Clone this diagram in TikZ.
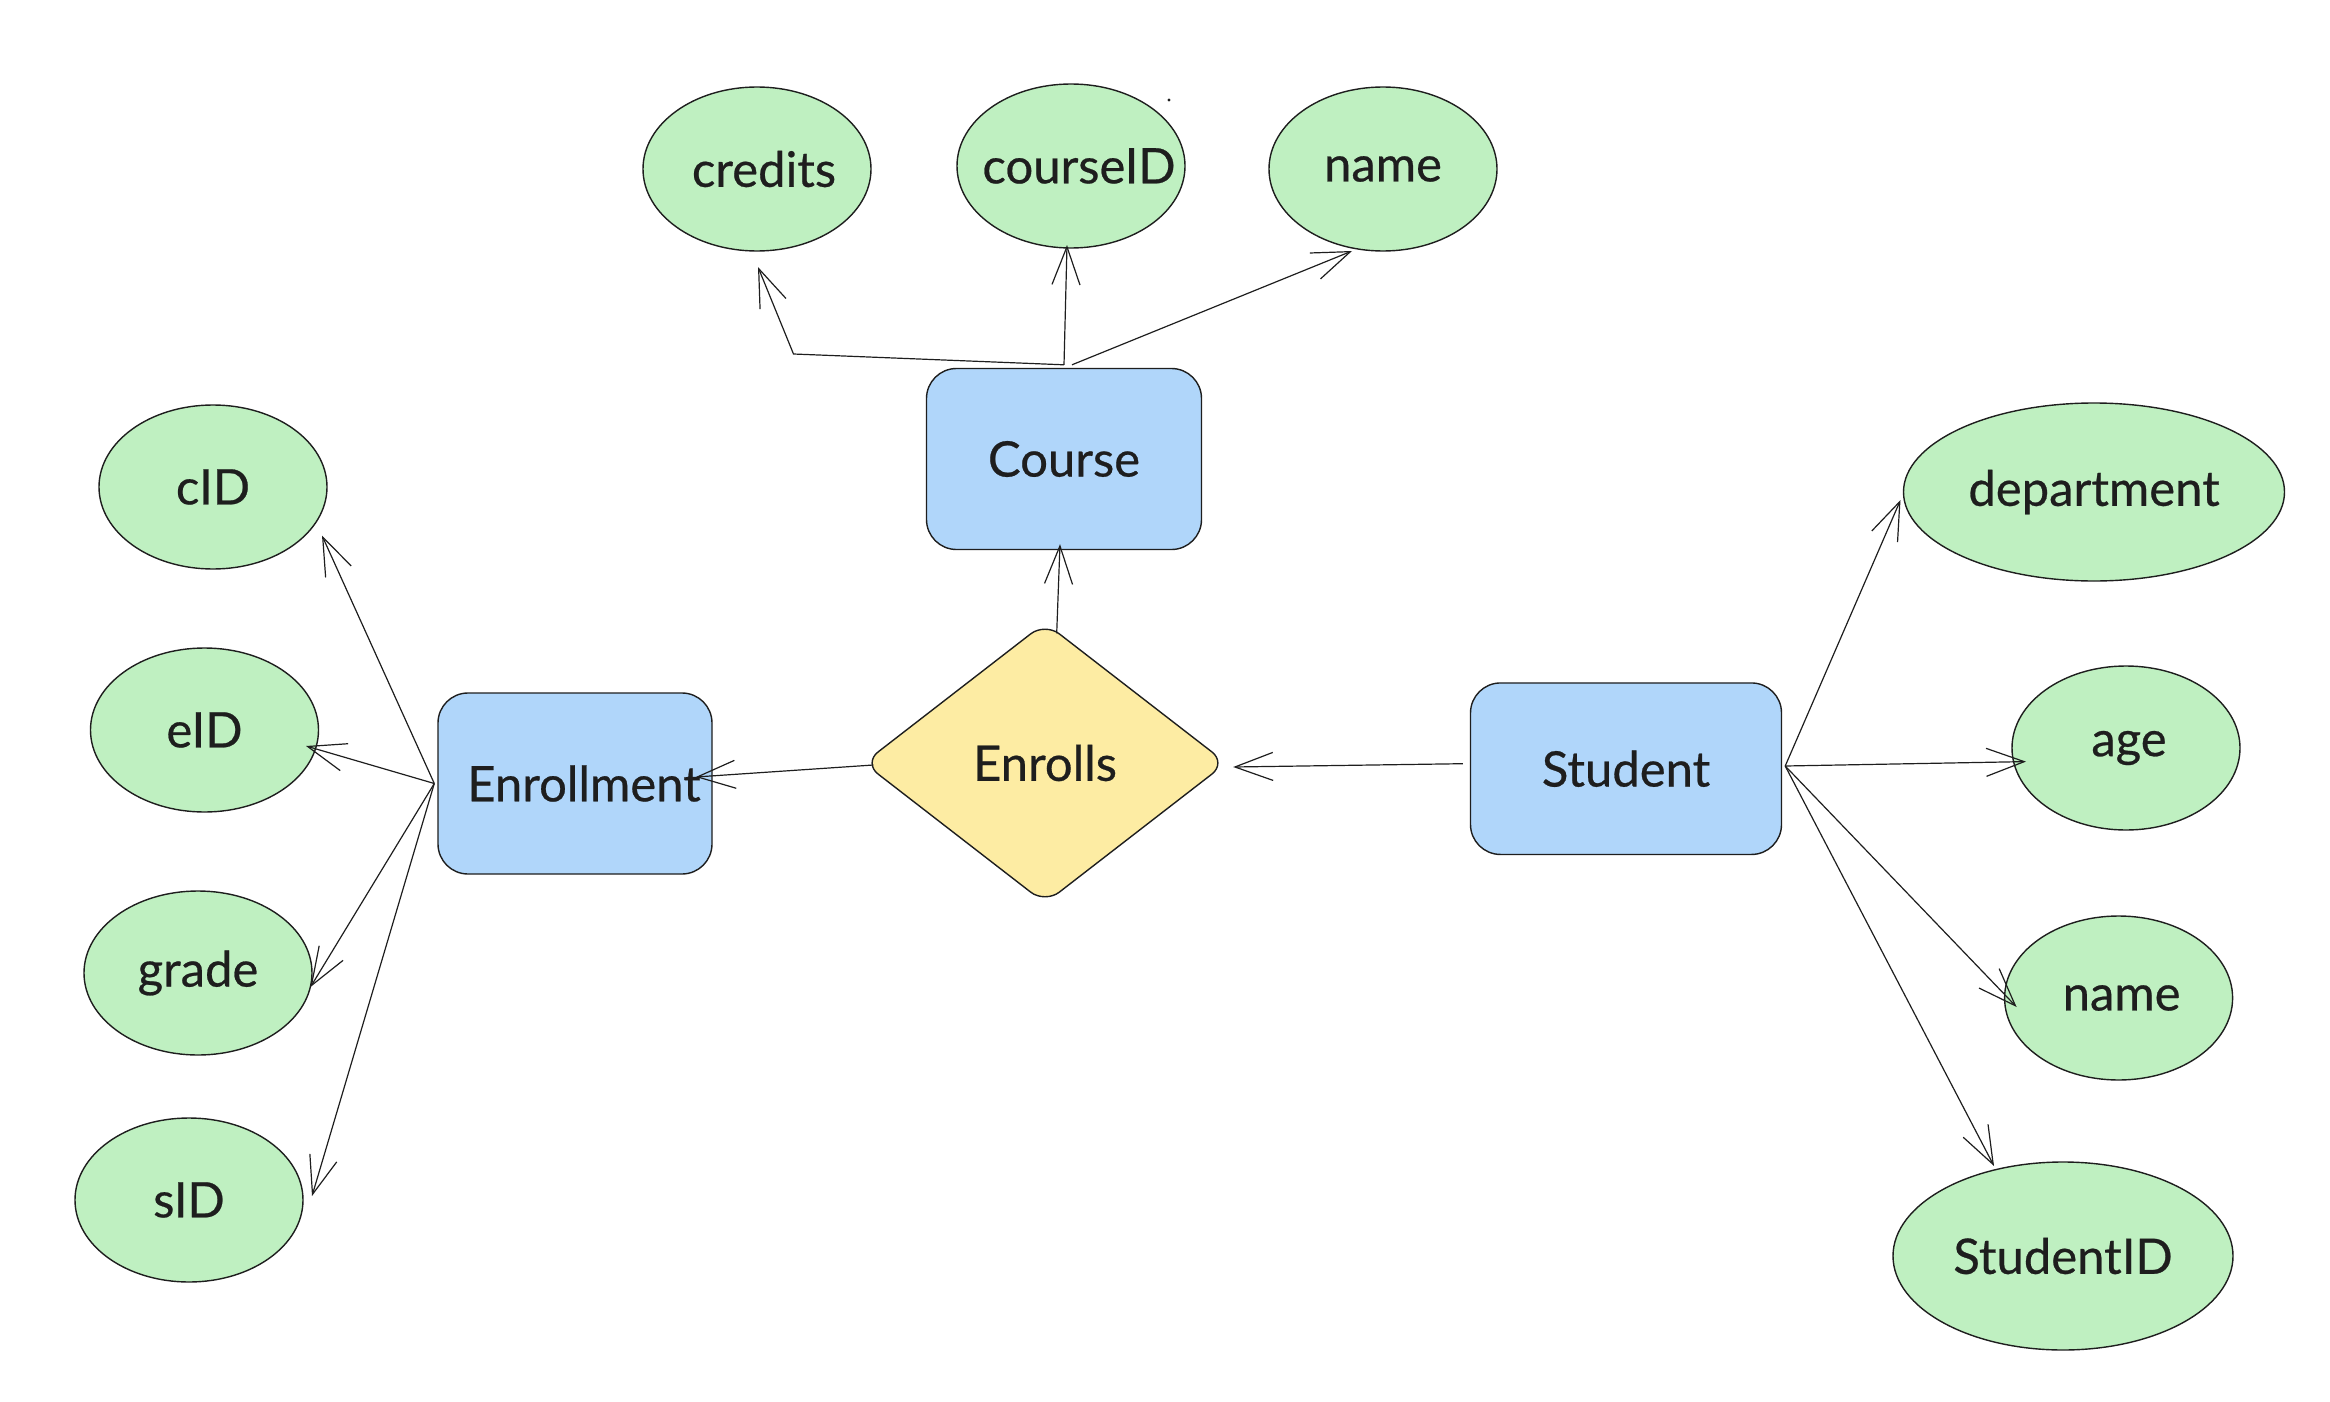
\documentclass[tikz,border=0pt]{standalone}
\usepackage{fontspec}
\setmainfont{Lato}[BoldFont=Lato, BoldFeatures={FakeBold=0.5}]
\usetikzlibrary{shapes.geometric,arrows.meta,calc}
\definecolor{attrgreen}{RGB}{191,240,193}
\definecolor{entblue}{RGB}{176,214,250}
\definecolor{relyellow}{RGB}{253,236,163}
\definecolor{ink}{RGB}{30,30,30}
\tikzset{
  lbl/.style={font=\fontsize{24.5}{29}\selectfont\bfseries, text=ink},
  attr/.style={ellipse, draw=ink, line width=0.7pt, fill=attrgreen, inner sep=0pt,
    minimum width=114pt, minimum height=82pt, lbl},
  attrlbl/.style={label={[lbl]center:#1}},
  entity/.style={rectangle, draw=ink, line width=0.7pt, fill=entblue, rounded corners=15pt,
    inner sep=0pt, lbl},
  rel/.style={diamond, draw=ink, line width=0.7pt, fill=relyellow, rounded corners=9pt,
    inner sep=0pt, aspect=1.29, minimum width=181.5pt, minimum height=140.5pt, lbl},
  conn/.style={draw=ink, line width=0.6pt, -{Straight Barb[length=19pt,width=14pt,line width=0.6pt]}},
}
\begin{document}
\begin{tikzpicture}[x=0.5pt,y=-0.5pt]
\useasboundingbox (0,0) rectangle (2330,1402);

% entities and relationship
\node[entity, minimum width=137.5pt, minimum height=90.5pt] (course) at (1064,459) {Course};
\node[entity, minimum width=137pt, minimum height=90.5pt] (enrollment) at (575,783.5) {\hspace*{9pt}Enrollment};
\node[entity, minimum width=155.5pt, minimum height=85.75pt] (student) at (1626,768.7) {Student};
\node[rel] (enrolls) at (1045,763) {Enrolls};

% course attributes
\node[attr] (credits) at (757,169) {\hspace*{7pt}credits};
\node[attr, label={[lbl, xshift=4pt]center:courseID}] (courseid) at (1071,166) {};
\node[attr] (cname) at (1383,169) {name};

% enrollment attributes
\node[attr] (cid) at (213,487) {cID};
\node[attr] (eid) at (204.5,730) {eID};
\node[attr] (grade) at (198,973) {grade};
\node[attr] (sid) at (189,1200) {sID};

% student attributes
\node[attr, minimum width=190.5pt, minimum height=89pt] (dept) at (2094,492) {department};
\node[attr] (age) at (2126,748) {\hspace*{3pt}age};
\node[attr] (sname) at (2118.6,998) {\hspace*{3pt}name};
\node[attr, minimum width=170pt, minimum height=94pt] (studentid) at (2063,1256) {StudentID};

\coordinate (cbend) at (793.5,354);
\fill[ink] (1169,100) circle (0.8pt);

% course connectors
\draw[conn] ([yshift=1.5pt]course.north) -- (cbend) -- ($(credits.center)+(1,98)$);
\draw[conn] ([yshift=1.5pt]course.north) -- ($(courseid.center)+(-4,79)$);
\draw[conn] ([xshift=4pt,yshift=1.5pt]course.north) -- ($(cname.center)+(-31,82)$);

% relationship connectors
\draw[conn] ($(enrolls.north)+(11.7,11.5)$) -- ($(course.south)+(-4,-6)$);
\draw[conn] ($(enrolls.west)+(10.5,2)$) -- ($(enrollment.east)+(-17,-6.5)$);
\draw[conn] ($(student.west)+(-7,-5)$) -- ($(enrolls.east)+(6,4)$);

% enrollment connectors
\draw[conn] ($(enrollment.west)+(-3,0)$) -- ($(cid.center)+(109,48.5)$);
\draw[conn] ($(enrollment.west)+(-3,0)$) -- ($(eid.center)+(101.5,16)$);
\draw[conn] ($(enrollment.west)+(-3,0)$) -- ($(grade.center)+(112.5,14)$);
\draw[conn] ($(enrollment.west)+(-3,0)$) -- ($(sid.center)+(123,-4)$);

% student connectors
\draw[conn] ($(student.east)+(3,-2.7)$) -- ($(dept.center)+(-193.5,8)$);
\draw[conn] ($(student.east)+(3,-2.7)$) -- ($(age.center)+(-100,13.6)$);
\draw[conn] ($(student.east)+(3,-2.7)$) -- ($(sname.center)+(-102,9)$);
\draw[conn] ($(student.east)+(3,-2.7)$) -- ($(studentid.center)+(-69,-90)$);
\end{tikzpicture}
\end{document}
